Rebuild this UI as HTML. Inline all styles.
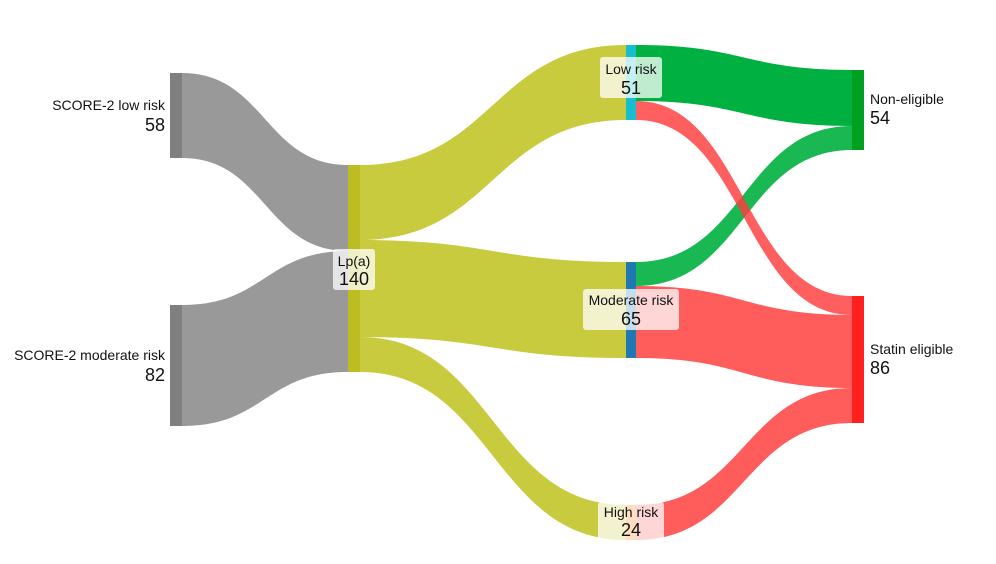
<!DOCTYPE html>
<html><head><meta charset="utf-8"><style>
html,body{margin:0;padding:0;background:#fff;}
svg{display:block;font-family:"Liberation Sans",Arial,sans-serif;}
</style></head><body>
<svg width="996" height="564" viewBox="0 0 996 564" xmlns="http://www.w3.org/2000/svg">
<g>
<path d="M182,73 C265,73 265,165 348,165 L348,251 C265,251 265,158 182,158 Z" fill="#999"/>
<path d="M182,305 C265,305 265,251 348,251 L348,372 C265,372 265,426 182,426 Z" fill="#999"/>
<path d="M360,165 C493,165 493,45 626,45 L626,120 C493,120 493,240 360,240 Z" fill="#c9cb3f"/>
<path d="M360,240 C493,240 493,262 626,262 L626,358 C493,358 493,337 360,337 Z" fill="#c9cb3f"/>
<path d="M360,337 C493,337 493,505 626,505 L626,540 C493,540 493,372 360,372 Z" fill="#c9cb3f"/>
<path d="M636,45 C744,45 744,70 852,70 L852,126 C744,126 744,101 636,101 Z" fill="#00b040"/>
<path d="M636,262 C744,262 744,126 852,126 L852,150 C744,150 744,286 636,286 Z" fill="#00b040" opacity="0.9"/>
<path d="M636,101 C744,101 744,296 852,296 L852,315 C744,315 744,120 636,120 Z" fill="#ff3c3c" opacity="0.82"/>
<path d="M636,286 C744,286 744,315 852,315 L852,388 C744,388 744,358 636,358 Z" fill="#ff4a4a" opacity="0.9"/>
<path d="M636,505 C744,505 744,388 852,388 L852,423 C744,423 744,540 636,540 Z" fill="#ff4a4a" opacity="0.9"/>
</g>
<rect x="170" y="73" width="12" height="85" fill="#7f7f7f"/>
<rect x="170" y="305" width="12" height="121" fill="#7f7f7f"/>
<rect x="348" y="165" width="12" height="207" fill="#bcbd22"/>
<rect x="626" y="45" width="10" height="75" fill="#17becf"/>
<rect x="626" y="262" width="10" height="96" fill="#1f77b4"/>
<rect x="626" y="505" width="10" height="35" fill="#ff7f0e"/>
<rect x="852" y="70" width="12" height="80" fill="#00a020"/>
<rect x="852" y="296" width="12" height="127" fill="#ff2020"/>
<g font-size="14" fill="#111">
<text x="165" y="110" text-anchor="end">SCORE-2 low risk</text>
<text x="165" y="131" text-anchor="end" font-size="18">58</text>
<text x="165" y="360" text-anchor="end">SCORE-2 moderate risk</text>
<text x="165" y="381" text-anchor="end" font-size="18">82</text>
<text x="870" y="104">Non-eligible</text>
<text x="870" y="124" font-size="18">54</text>
<text x="870" y="354">Statin eligible</text>
<text x="870" y="374" font-size="18">86</text>
</g>
<g fill="#fff" fill-opacity="0.75">
<rect x="333" y="249" width="42" height="41" rx="3"/>
<rect x="600" y="57" width="62" height="41" rx="3"/>
<rect x="583" y="289" width="96" height="41" rx="3"/>
<rect x="598" y="502" width="66" height="38" rx="3"/>
</g>
<g font-size="14" fill="#111" text-anchor="middle">
<text x="354" y="266">Lp(a)</text>
<text x="354" y="285" font-size="18">140</text>
<text x="631" y="74">Low risk</text>
<text x="631" y="94" font-size="18">51</text>
<text x="631" y="305">Moderate risk</text>
<text x="631" y="325" font-size="18">65</text>
<text x="631" y="517">High risk</text>
<text x="631" y="536" font-size="18">24</text>
</g>
</svg>
</body></html>
